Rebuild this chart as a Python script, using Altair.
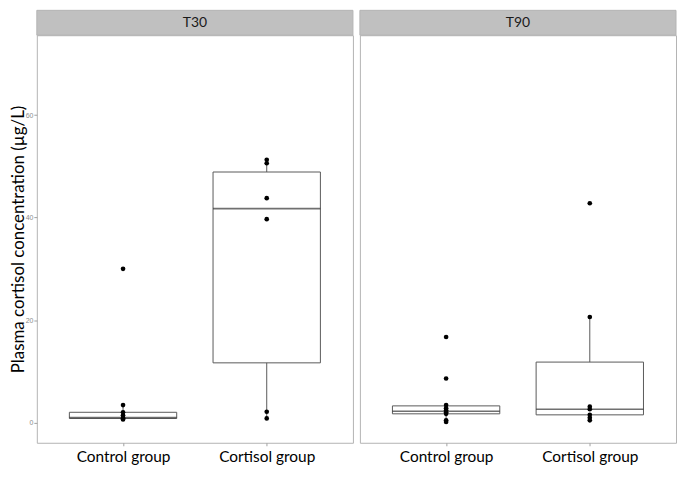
import altair as alt
import pandas as pd

groups = ["Control group", "Cortisol group"]
times = ["T30", "T90"]

# Box summary values (per time, group)
box_time = ["T30", "T30", "T90", "T90"]
box_group = ["Control group", "Cortisol group", "Control group", "Cortisol group"]
whisker_low = [0.6, 0.8, 0.1, 0.43]
q1 = [0.8, 11.65, 1.7, 1.5]
median = [0.95, 41.75, 2.2, 2.6]
q3 = [2.0, 48.9, 3.25, 11.8]
whisker_high = [3.4, 51.3, 3.4, 20.6]

# Individual observations
t30_control = [0.6, 0.8, 0.9, 1.4, 2.0, 3.4, 30.0]
t30_cortisol = [0.8, 2.1, 39.7, 43.8, 50.6, 51.3]
t90_control = [0.1, 0.43, 1.7, 2.0, 2.4, 2.8, 3.4, 8.6, 16.7]
t90_cortisol = [0.43, 0.94, 1.5, 2.6, 3.1, 20.6, 42.8]

y_ticks = [0, 20, 40, 60]
y_title = "Plasma cortisol concentration (µg/L)"

box_df = pd.DataFrame({
    "time": box_time, "group": box_group, "lo": whisker_low,
    "q1": q1, "median": median, "q3": q3, "hi": whisker_high,
})
pts = []
for t, g, vals in [("T30", groups[0], t30_control), ("T30", groups[1], t30_cortisol),
                   ("T90", groups[0], t90_control), ("T90", groups[1], t90_cortisol)]:
    for v in vals:
        pts.append({"time": t, "group": g, "value": v})
pts_df = pd.DataFrame(pts)

W = 318
H = 410
STRIP = 25
BOXW = 108
FONT = "Lato"
LINE = "#5a5a5a"

yscale = alt.Scale(domain=[-3.95, 75.6], nice=False, zero=False)
xscale = alt.Scale(type="point", domain=groups, padding=0.6)


def panel(time, show_axis):
    if show_axis:
        yaxis = alt.Axis(values=y_ticks, title=y_title, grid=False, domain=False,
                         tickSize=3, tickColor="#a0a0a0", labelColor="#8c8c8c",
                         labelFont="Liberation Sans", labelFontSize=7, labelPadding=1,
                         titleFont=FONT, titleFontSize=17, titleFontWeight="normal",
                         titleColor="black", titlePadding=-2)
    else:
        yaxis = None
    xaxis = alt.Axis(title=None, grid=False, domain=False, tickSize=3,
                     tickColor="#a0a0a0", labelFont=FONT, labelFontSize=15.5,
                     labelColor="black", labelPadding=4, labelAngle=0)
    bd = box_df[box_df.time == time]
    pd_ = pts_df[pts_df.time == time]
    x = alt.X("group:N", scale=xscale, axis=xaxis)
    box = alt.Chart(bd).mark_bar(size=BOXW, fill="white", stroke=LINE, strokeWidth=1).encode(
        x=x, y=alt.Y("q1:Q", scale=yscale, axis=yaxis), y2="q3:Q")
    med = alt.Chart(bd).mark_tick(size=BOXW, thickness=1.6, color="#333333").encode(
        x=x, y=alt.Y("median:Q", scale=yscale, axis=yaxis))
    wh_up = alt.Chart(bd).mark_rule(color=LINE, strokeWidth=1).encode(
        x=x, y=alt.Y("q3:Q", scale=yscale, axis=yaxis), y2="hi:Q")
    wh_lo = alt.Chart(bd).mark_rule(color=LINE, strokeWidth=1).encode(
        x=x, y=alt.Y("lo:Q", scale=yscale, axis=yaxis), y2="q1:Q")
    dots = alt.Chart(pd_).mark_circle(size=22, color="black", opacity=1).encode(
        x=x, y=alt.Y("value:Q", scale=yscale, axis=yaxis))
    sdf = pd.DataFrame({"time": [time]})
    strip = alt.Chart(sdf).mark_rect(color="#c0c0c0", stroke="#b3b3b3", strokeWidth=1).encode(
        x=alt.value(0), x2=alt.value(W), y=alt.value(-STRIP), y2=alt.value(0))
    label = alt.Chart(sdf).mark_text(font=FONT, fontSize=14, color="#1a1a1a",
                                     baseline="middle", align="center").encode(
        x=alt.value(W / 2), y=alt.value(-STRIP / 2), text="time:N")
    return alt.layer(box, wh_up, wh_lo, med, dots, strip, label).properties(width=W, height=H)


chart = alt.hconcat(
    panel("T30", True), panel("T90", False), spacing=5, padding=0, background="white"
).configure_view(stroke="#b3b3b3", strokeWidth=1)

chart.save("out.html", embed_options={"renderer": "svg", "actions": False})
